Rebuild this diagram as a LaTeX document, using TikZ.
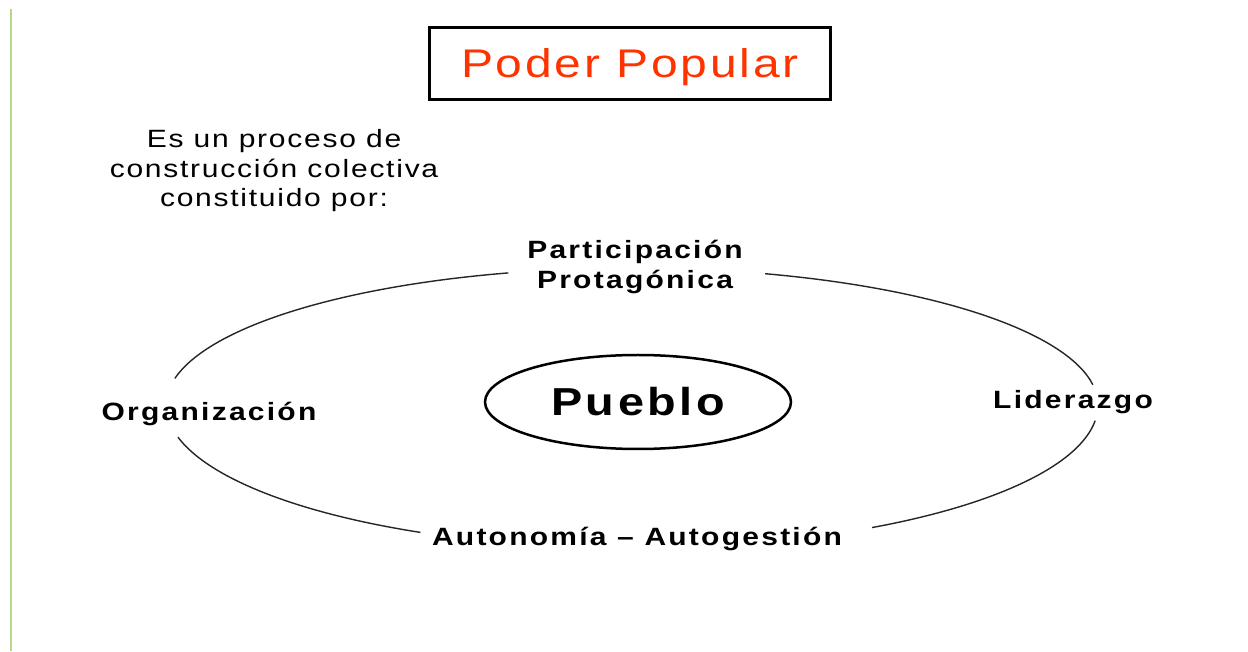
\documentclass[tikz,border=0pt]{standalone}
\usepackage{fontspec}
\setmainfont{Liberation Sans}[FakeStretch=1.2, LetterSpace=7]
\newfontfamily\boldlabels{Liberation Sans Bold}[FakeStretch=1.2, LetterSpace=9]
\usetikzlibrary{shapes.geometric}
\definecolor{titlered}{HTML}{FF3300}
\definecolor{leafgreen}{HTML}{B5D88A}
\begin{document}
\begin{tikzpicture}[x=1pt,y=1pt,
  lbl/.style={font=\fontsize{25}{29.5}\selectfont\boldlabels, align=center, inner sep=0pt},
  body/.style={font=\fontsize{25}{29.5}\selectfont, align=center, inner sep=0pt},
  ring/.style={line width=1.4pt, black!85},
  titlebox/.style={draw, line width=3pt, minimum width=401pt, minimum height=72pt, inner sep=0pt,
    text height=28pt, text depth=0pt, font=\fontsize{40}{48}\selectfont, text=titlered},
  core/.style={draw, ellipse, line width=2.5pt, minimum width=306pt, minimum height=94pt, inner sep=0pt,
    text height=28pt, text depth=0pt, font=\fontsize{39}{46}\selectfont\boldlabels}]
\useasboundingbox (0,0) rectangle (1248,651);
\fill[white] (0,0) rectangle (1248,651);
\draw[leafgreen, line width=2pt] (10.5,0) -- (10.5,642);

\node[titlebox] (title) at (630,587.5) {Poder Popular};
\node[body] (intro) at (274,480) {Es un proceso de\\construcción colectiva\\constituido por:};

\node[core] (pueblo) at (638,249) {Pueblo};

\node[lbl] (part) at (635,384) {Participación\\Protagónica};
\node[lbl] (org) at (209,237) {Organización};
\node[lbl] (lid) at (1073,249) {Liderazgo};
\node[lbl] (auto) at (637,112) {Autonomía – Autogestión};

\coordinate (c) at (632,246);
\draw[ring] (c) ++(105.4:466 and 137) arc[start angle=105.4, end angle=168.8, x radius=466, y radius=137];
\draw[ring] (c) ++(73.4:466 and 137) arc[start angle=73.4, end angle=8.5, x radius=466, y radius=137];
\draw[ring] (c) ++(-6.3:466 and 143) arc[start angle=-6.3, end angle=-59, x radius=466, y radius=143];
\draw[ring] (c) ++(193:466 and 143) arc[start angle=193, end angle=243, x radius=466, y radius=143];
\end{tikzpicture}
\end{document}
